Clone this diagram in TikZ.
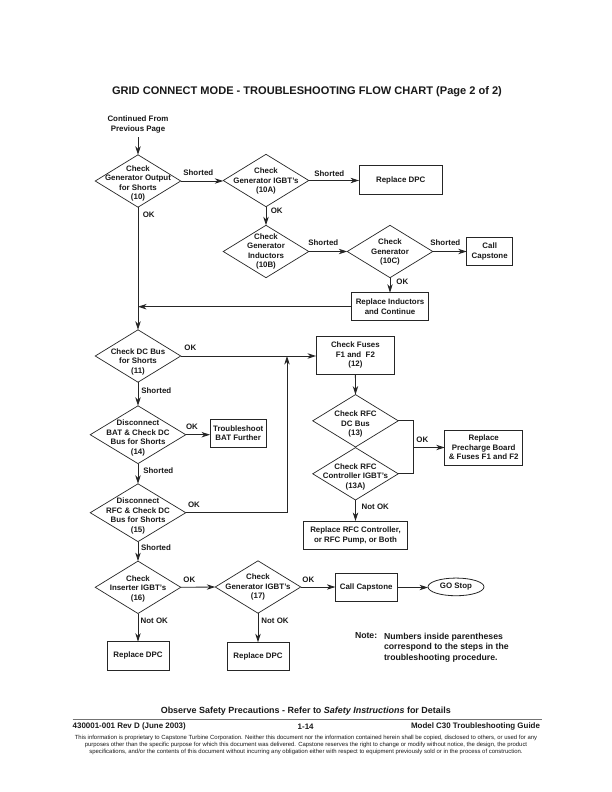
\documentclass[tikz,border=0pt]{standalone}
\usepackage{fontspec}
\setmainfont{Liberation Sans}
\usetikzlibrary{shapes.geometric,arrows.meta}
\tikzset{
  x=1bp,y=-1bp,
  every node/.style={inner sep=0pt,outer sep=0pt,font=\fontsize{7.9bp}{9.55bp}\selectfont\bfseries,align=center,text=black!90},
  dia/.style={diamond,draw=black!85,line width=0.7bp,minimum width=85.5bp,minimum height=52.4bp},
  tall/.style={dia,minimum width=95.5bp,minimum height=57.8bp},
  every label/.style={font=\fontsize{7.9bp}{9.55bp}\selectfont\bfseries,align=center,inner sep=0pt,outer sep=0pt,text=black!90},
  boxn/.style={rectangle,draw=black!85,line width=0.8bp},
  lab/.style={},
  flow/.style={draw=black!85,line width=0.85bp,-{Stealth[length=8.5bp,width=5.4bp,inset=2.6bp]}},
  plain/.style={draw=black!85,line width=0.85bp},
  note/.style={font=\fontsize{8.7bp}{10.5bp}\selectfont\bfseries,align=left},
}
\begin{document}
\begin{tikzpicture}
\useasboundingbox (0,0) rectangle (612,792);
\fill[white] (0,0) rectangle (612,792);
\node (title) [font=\fontsize{11.05bp}{13bp}\selectfont\bfseries] at (307,92) {GRID CONNECT MODE - TROUBLESHOOTING FLOW CHART (Page 2 of 2)};
\node (start) at (138,124.2) {Continued From\\Previous Page};
\coordinate (startc) at (138,137);

\node (d10) [dia,label={[yshift=-2.5bp]center:Check\\Generator Output\\for Shorts\\(10)}] at (138,181) {};
\node (d10a) [dia,label={[yshift=-0.5bp]center:Check\\Generator IGBT's\\(10A)}] at (266,180.5) {};
\node (dpca) [boxn,minimum width=83.3bp,minimum height=28.4bp] at (400.7,180) {\raisebox{-0.6bp}{Replace DPC}};
\node (d10b) [dia,label={center:Check\\Generator\\Inductors\\(10B)}] at (266,251.5) {};
\node (d10c) [dia,label={[yshift=-0.5bp]center:Check\\Generator\\(10C)}] at (390,251.5) {};
\node (cap1) [boxn,minimum width=46bp,minimum height=28bp] at (489.7,251.3) {Call\\Capstone};
\node (ind) [boxn,minimum width=77bp,minimum height=28bp] at (390,306.7) {Replace Inductors\\and Continue};

\node (d11) [dia,label={[yshift=-5.7bp]center:Check DC Bus\\for Shorts\\(11)}] at (138,356) {};
\node (d14) [tall,label={[yshift=-3.3bp]center:Disconnect\\BAT \& Check DC\\Bus for Shorts\\(14)}] at (138,434.7) {};
\node (bat) [boxn,minimum width=56.3bp,minimum height=28bp] at (238.2,433.3) {Troubleshoot\\BAT Further};
\node (d15) [tall,label={[yshift=-3.3bp]center:Disconnect\\RFC \& Check DC\\Bus for Shorts\\(15)}] at (138,512.7) {};
\node (fuses) [boxn,minimum width=78.7bp,minimum height=38bp] at (355.4,355) {Check Fuses\\F1 and~~F2\\(12)};
\node (d13) [dia,label={[yshift=-3.5bp]center:Check RFC\\DC Bus\\(13)}] at (355.5,420.8) {};
\node (d13a) [dia,label={[yshift=-2.9bp]center:Check RFC\\Controller IGBT's\\(13A)}] at (355.5,473.8) {};
\node (pre) [boxn,minimum width=78bp,minimum height=35bp] at (483.7,447.5) {Replace\\Precharge Board\\\& Fuses F1 and F2};
\node (rfc) [boxn,minimum width=103.6bp,minimum height=28.3bp] at (355.5,535.2) {Replace RFC Controller,\\or RFC Pump, or Both};

\node (d16) [dia,label={[yshift=-1.4bp]center:Check\\Inserter IGBT's\\(16)}] at (138,587.3) {};
\node (d17) [dia,label={[yshift=-0.3bp]center:Check\\Generator IGBT's\\(17)}] at (258,587) {};
\node (cap2) [boxn,minimum width=61.7bp,minimum height=28.4bp] at (366.2,587.5) {Call Capstone};
\node (go) [ellipse,draw=black!85,line width=0.8bp,minimum width=56bp,minimum height=17.7bp] at (456,586.9) {GO Stop};
\node (dpcb) [boxn,minimum width=62bp,minimum height=28.3bp] at (138,655.8) {\raisebox{1.2bp}{Replace DPC}};
\node (dpcc) [boxn,minimum width=62bp,minimum height=28bp] at (258,656.3) {\raisebox{1bp}{Replace DPC}};

\coordinate (merge) at (287,356);
\coordinate (okjoin) at (413,447.5);

\draw[flow] (startc) -- (d10.north);
\draw[flow] (d10.east) -- (d10.east -| d10a.west);
\draw[flow] (d10a.east) -- (d10a.east -| dpca.west);
\draw[flow] (d10a.south) -- (d10b.north);
\draw[flow] (d10b.east) -- (d10c.west);
\draw[flow] (d10c.east) -- (d10c.east -| cap1.west);
\draw[flow] (d10c.south) -- (ind.north);
\draw[flow] (ind.west) -- (ind.west -| d10.south);
\draw[flow] (d10.south) -- (d11.north);
\draw[flow] (d11.east) -- (d11.east -| fuses.west);
\draw[flow] (d15.east) -| (merge);
\draw[flow] (d11.south) -- (d14.north);
\draw[flow] (d14.east) -- (d14.east -| bat.west);
\draw[flow] (d14.south) -- (d15.north);
\draw[flow] (d15.south) -- (d16.north);
\draw[flow] (fuses.south) -- (d13.north);
\draw[plain] (d13.east) -- (d13.east -| okjoin) -- (d13a.east -| okjoin) -- (d13a.east);
\draw[flow] (okjoin) -- (pre.west);
\draw[flow] (d13a.south) -- (rfc.north);
\draw[flow] (d16.east) -- (d17.west);
\draw[flow] (d17.east) -- (d17.east -| cap2.west);
\draw[flow] (cap2.east) -- (cap2.east -| go.west);
\draw[flow] (d16.south) -- (dpcb.north);
\draw[flow] (d17.south) -- (dpcc.north);

\node (l1) [lab] at (198.3,172.7) {Shorted};
\node (l2) [lab] at (148.7,214.7) {OK};
\node (l3) [lab] at (329.3,173.3) {Shorted};
\node (l4) [lab] at (276.7,210.7) {OK};
\node (l5) [lab] at (323.3,242.3) {Shorted};
\node (l6) [lab] at (445.3,242.3) {Shorted};
\node (l7) [lab] at (402.3,281.7) {OK};
\node (l8) [lab] at (190.3,348) {OK};
\node (l9) [lab] at (156.3,390.7) {Shorted};
\node (l10) [lab] at (192,426.7) {OK};
\node (l11) [lab] at (158.3,470.3) {Shorted};
\node (l12) [lab] at (194,504.7) {OK};
\node (l13) [lab] at (156,547.7) {Shorted};
\node (l14) [lab] at (422.3,439.7) {OK};
\node (l15) [lab] at (375.3,506.7) {Not OK};
\node (l16) [lab] at (189.3,579.7) {OK};
\node (l17) [lab] at (154.3,620.7) {Not OK};
\node (l18) [lab] at (308.3,579.3) {OK};
\node (l19) [lab] at (275,620.7) {Not OK};

\node (notehead) [note,anchor=north west] at (355,632.7) {Note:};
\node (notebody) [note,anchor=north west] at (384,632.7) {Numbers inside parentheses\\correspond to the steps in the\\troubleshooting procedure.};

\node (safety) [font=\fontsize{8.95bp}{10bp}\selectfont\bfseries] at (305.8,711) {Observe Safety Precautions - Refer to \textit{Safety Instructions} for Details};
\coordinate (rulea) at (72.7,719.7);
\coordinate (ruleb) at (541.7,719.7);
\draw[black!55,line width=0.6bp] (rulea) -- (ruleb);
\node (footl) [anchor=west,font=\fontsize{7.95bp}{9bp}\selectfont\bfseries] at (72.7,726.7) {430001-001 Rev D (June 2003)};
\node (footc) [font=\fontsize{7.95bp}{9bp}\selectfont\bfseries] at (305.7,726.7) {1-14};
\node (footr) [anchor=east,font=\fontsize{7.95bp}{9bp}\selectfont\bfseries] at (540,726.7) {Model C30 Troubleshooting Guide};
\node (legal) [font=\fontsize{5.95bp}{7bp}\selectfont] at (306,744.7) {This information is proprietary to Capstone Turbine Corporation. Neither this document nor the information contained herein shall be copied, disclosed to others, or used for any\\purposes other than the specific purpose for which this document was delivered. Capstone reserves the right to change or modify without notice, the design, the product\\specifications, and/or the contents of this document without incurring any obligation either with respect to equipment previously sold or in the process of construction.};
\end{tikzpicture}
\end{document}
